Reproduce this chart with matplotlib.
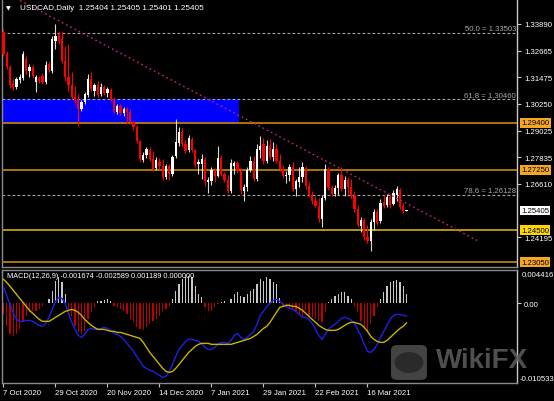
import numpy as np
import pandas as pd
import matplotlib
matplotlib.use('Agg')
import matplotlib.pyplot as plt
from matplotlib.transforms import blended_transform_factory
from matplotlib.patches import Rectangle, FancyBboxPatch, Circle
from matplotlib import font_manager

# ---------------- data ----------------
dates = pd.bdate_range('2020-10-07', '2021-04-01')
dates = dates[~dates.isin(pd.to_datetime(['2020-12-25', '2021-01-01']))]

opens = [1.3353, 1.3253, 1.3193, 1.3116, 1.3102, 1.3134, 1.3143, 1.3230, 1.3175, 1.3193,
         1.3125, 1.3143, 1.3152, 1.3125, 1.3207, 1.3175, 1.3312, 1.3344, 1.3321, 1.3221,
         1.3148, 1.3111, 1.3057, 1.3048, 1.3002, 1.3034, 1.3066, 1.3139, 1.3084, 1.3111,
         1.3071, 1.3102, 1.3075, 1.3089, 1.3048, 1.2989, 1.3016, 1.2984, 1.3002, 1.2989,
         1.2943, 1.2920, 1.2857, 1.2770, 1.2793, 1.2816, 1.2775, 1.2734, 1.2761, 1.2743,
         1.2693, 1.2743, 1.2707, 1.2788, 1.2848, 1.2898, 1.2843, 1.2816, 1.2866, 1.2816,
         1.2752, 1.2752, 1.2770, 1.2670, 1.2675, 1.2725, 1.2697, 1.2779, 1.2707, 1.2679,
         1.2629, 1.2743, 1.2757, 1.2720, 1.2629, 1.2647, 1.2725, 1.2766, 1.2684, 1.2816,
         1.2843, 1.2766, 1.2834, 1.2784, 1.2820, 1.2766, 1.2729, 1.2697, 1.2702, 1.2738,
         1.2638, 1.2670, 1.2693, 1.2734, 1.2652, 1.2611, 1.2584, 1.2561, 1.2502, 1.2597,
         1.2729, 1.2643, 1.2616, 1.2643, 1.2702, 1.2638, 1.2679, 1.2647, 1.2606, 1.2547,
         1.2470, 1.2497, 1.2420, 1.2402, 1.2488, 1.2534, 1.2493, 1.2579, 1.2565, 1.2602,
         1.2570, 1.2611, 1.2634, 1.2561, 1.25404]
highs = [1.3366, 1.3266, 1.3202, 1.3139, 1.3148, 1.3162, 1.3266, 1.3243, 1.3207, 1.3202,
         1.3157, 1.3152, 1.3166, 1.3221, 1.3216, 1.3334, 1.3389, 1.3357, 1.3357, 1.3289,
         1.3298, 1.3171, 1.3107, 1.3071, 1.3043, 1.3080, 1.3162, 1.3171, 1.3121, 1.3130,
         1.3121, 1.3111, 1.3102, 1.3098, 1.3057, 1.3025, 1.3025, 1.3011, 1.3011, 1.3002,
         1.2948, 1.2929, 1.2861, 1.2807, 1.2829, 1.2829, 1.2811, 1.2784, 1.2779, 1.2775,
         1.2752, 1.2752, 1.2793, 1.2957, 1.2920, 1.2916, 1.2861, 1.2884, 1.2875, 1.2820,
         1.2775, 1.2798, 1.2784, 1.2693, 1.2738, 1.2734, 1.2834, 1.2793, 1.2716, 1.2702,
         1.2775, 1.2766, 1.2766, 1.2734, 1.2661, 1.2738, 1.2788, 1.2788, 1.2843, 1.2879,
         1.2870, 1.2861, 1.2866, 1.2852, 1.2843, 1.2798, 1.2747, 1.2720, 1.2752, 1.2761,
         1.2684, 1.2738, 1.2761, 1.2743, 1.2670, 1.2629, 1.2606, 1.2597, 1.2611, 1.2752,
         1.2738, 1.2656, 1.2656, 1.2711, 1.2738, 1.2697, 1.2693, 1.2684, 1.2629, 1.2565,
         1.2511, 1.2506, 1.2474, 1.2502, 1.2547, 1.2547, 1.2593, 1.2611, 1.2616, 1.2616,
         1.2634, 1.2652, 1.2643, 1.2575, 1.25405]
lows = [1.3243, 1.3184, 1.3098, 1.3089, 1.3093, 1.3121, 1.3134, 1.3162, 1.3148, 1.3143,
        1.3080, 1.3121, 1.3116, 1.3116, 1.3171, 1.3166, 1.3275, 1.3298, 1.3212, 1.3130,
        1.3084, 1.3048, 1.3030, 1.2925, 1.2993, 1.3025, 1.3057, 1.3084, 1.3061, 1.3057,
        1.3061, 1.3066, 1.3057, 1.3039, 1.2984, 1.2980, 1.2975, 1.2970, 1.2934, 1.2934,
        1.2907, 1.2848, 1.2761, 1.2761, 1.2779, 1.2766, 1.2720, 1.2725, 1.2729, 1.2679,
        1.2684, 1.2679, 1.2697, 1.2779, 1.2834, 1.2829, 1.2802, 1.2807, 1.2807, 1.2738,
        1.2707, 1.2684, 1.2652, 1.2620, 1.2656, 1.2670, 1.2693, 1.2697, 1.2670, 1.2620,
        1.2620, 1.2707, 1.2711, 1.2616, 1.2584, 1.2629, 1.2716, 1.2675, 1.2675, 1.2779,
        1.2752, 1.2757, 1.2775, 1.2766, 1.2757, 1.2720, 1.2688, 1.2666, 1.2675, 1.2629,
        1.2606, 1.2647, 1.2670, 1.2638, 1.2602, 1.2570, 1.2552, 1.2488, 1.2465, 1.2588,
        1.2634, 1.2606, 1.2606, 1.2611, 1.2629, 1.2606, 1.2616, 1.2597, 1.2534, 1.2465,
        1.2443, 1.2406, 1.2393, 1.2356, 1.2452, 1.2474, 1.2484, 1.2552, 1.2556, 1.2552,
        1.2565, 1.2584, 1.2547, 1.2529, 1.25401]
closes = [1.3253, 1.3193, 1.3111, 1.3102, 1.3139, 1.3148, 1.3253, 1.3175, 1.3193, 1.3152,
          1.3148, 1.3130, 1.3125, 1.3202, 1.3180, 1.3321, 1.3334, 1.3312, 1.3221, 1.3148,
          1.3111, 1.3057, 1.3039, 1.3002, 1.3034, 1.3071, 1.3139, 1.3093, 1.3111, 1.3066,
          1.3102, 1.3075, 1.3093, 1.3048, 1.2993, 1.3016, 1.2984, 1.3002, 1.2989, 1.2943,
          1.2920, 1.2857, 1.2775, 1.2793, 1.2820, 1.2775, 1.2729, 1.2770, 1.2743, 1.2693,
          1.2743, 1.2707, 1.2784, 1.2852, 1.2898, 1.2843, 1.2811, 1.2870, 1.2816, 1.2747,
          1.2761, 1.2775, 1.2675, 1.2679, 1.2725, 1.2697, 1.2779, 1.2707, 1.2679, 1.2629,
          1.2757, 1.2757, 1.2720, 1.2634, 1.2647, 1.2725, 1.2766, 1.2684, 1.2820, 1.2834,
          1.2766, 1.2834, 1.2784, 1.2820, 1.2766, 1.2729, 1.2697, 1.2702, 1.2738, 1.2638,
          1.2675, 1.2693, 1.2738, 1.2652, 1.2611, 1.2584, 1.2561, 1.2502, 1.2597, 1.2729,
          1.2643, 1.2616, 1.2643, 1.2702, 1.2638, 1.2679, 1.2647, 1.2606, 1.2547, 1.2474,
          1.2497, 1.2420, 1.2402, 1.2488, 1.2534, 1.2484, 1.2575, 1.2561, 1.2602, 1.2565,
          1.2620, 1.2638, 1.2556, 1.2538, 1.25405]

# MACD(12,26,9), in units of 1e-4
macd_main_x1e4 = [21.2, 10.6, -1.3, -13.2, -21.2, -23.8, -23.8, -22.5, -22.5, -23.8,
                  -26.5, -29.1, -30.4, -26.5, -18.5, -7.9, 2.6, 7.9, 6.6, 0.0,
                  -13.2, -25.1, -34.4, -42.3, -45.0, -41.0, -34.4, -33.1, -34.4, -34.4,
                  -33.1, -31.8, -33.1, -35.7, -39.7, -41.0, -43.7, -47.6, -52.9, -58.2,
                  -63.5, -70.1, -76.7, -83.3, -86.0, -88.6, -90.0, -92.6, -95.3, -97.9,
                  -96.6, -90.0, -80.7, -70.1, -60.9, -55.6, -50.3, -47.6, -47.6, -49.0,
                  -50.3, -52.9, -58.2, -60.9, -60.9, -58.2, -54.2, -51.6, -51.6, -52.9,
                  -49.0, -42.3, -39.7, -45.0, -47.6, -45.0, -41.0, -37.0, -27.8, -15.9,
                  -10.6, -4.0, 0.0, 4.0, 5.3, 2.6, -1.3, -4.0, -6.6, -7.9,
                  -10.6, -14.6, -18.5, -18.5, -21.2, -26.5, -34.4, -42.3, -47.6, -41.0,
                  -34.4, -30.4, -27.8, -23.8, -19.8, -18.5, -19.8, -22.5, -26.5, -34.4,
                  -43.7, -54.2, -63.5, -64.8, -60.9, -54.2, -45.0, -37.0, -29.1, -21.2,
                  -15.9, -14.6, -14.6, -15.9, -16.74]
macd_signal_x1e4 = [31.8, 27.8, 22.5, 17.2, 11.9, 6.6, 1.3, -4.0, -9.3, -13.2,
                    -17.2, -21.2, -23.8, -23.8, -23.8, -21.2, -18.5, -15.9, -13.2, -10.6,
                    -9.3, -7.9, -9.3, -11.9, -15.9, -21.2, -25.1, -29.1, -31.8, -34.4,
                    -34.4, -34.4, -35.7, -37.0, -37.0, -38.4, -38.4, -39.7, -41.0, -42.3,
                    -43.7, -45.0, -46.3, -51.6, -58.2, -64.8, -70.1, -75.4, -80.7, -86.0,
                    -90.0, -91.3, -90.0, -86.0, -80.7, -75.4, -70.1, -64.8, -60.9, -56.9,
                    -54.2, -52.9, -52.9, -52.9, -54.2, -54.2, -54.2, -54.2, -54.2, -54.2,
                    -54.2, -52.9, -51.6, -50.3, -49.0, -47.6, -46.3, -43.7, -41.0, -37.0,
                    -33.1, -30.4, -25.1, -18.5, -11.9, -5.3, -4.0, -2.6, -2.6, -4.0,
                    -4.0, -6.6, -9.3, -13.2, -17.2, -21.2, -25.1, -29.1, -31.8, -34.4,
                    -35.7, -35.7, -35.7, -34.4, -31.8, -29.1, -26.5, -25.1, -25.1, -26.5,
                    -27.8, -31.8, -37.0, -43.7, -47.6, -50.3, -51.6, -51.6, -49.0, -45.0,
                    -41.0, -37.0, -33.1, -30.4, -25.89]
macd_hist_x1e4 = [-14.6, -30.4, -41.0, -43.7, -41.0, -34.4, -23.8, -17.2, -11.9, -10.6,
                  -10.6, -7.9, -4.0, 0.7, 5.3, 15.9, 29.1, 34.4, 27.8, 11.9,
                  -7.9, -17.2, -30.4, -38.4, -41.0, -37.0, -21.2, -11.9, -5.3, 2.6,
                  2.6, 4.0, 5.3, 2.6, -4.0, -5.3, -7.9, -10.6, -14.6, -21.2,
                  -25.1, -31.8, -34.4, -35.7, -31.8, -27.8, -23.8, -21.2, -17.2, -11.9,
                  -7.9, -4.0, 5.3, 15.9, 25.1, 31.8, 34.4, 35.7, 34.4, 22.5,
                  11.9, 7.9, -5.3, -10.6, -10.6, -5.3, -1.3, 1.3, 2.6, 0.7,
                  5.3, 11.9, 14.6, 9.3, 7.9, 11.9, 15.9, 18.5, 25.1, 31.8,
                  29.1, 34.4, 31.8, 27.8, 25.1, 6.6, -4.0, -5.3, -7.9, -7.9,
                  -10.6, -14.6, -17.2, -10.6, -17.2, -18.5, -21.2, -23.8, -25.1, -11.9,
                  1.3, 5.3, 9.3, 11.9, 14.6, 14.6, 9.3, 5.3, -4.0, -11.9,
                  -23.8, -31.8, -37.0, -27.8, -17.2, -5.3, 5.3, 14.6, 22.5, 27.8,
                  29.1, 30.4, 27.8, 22.5, 11.89]

price_ticks = [1.33890, 1.32665, 1.31475, 1.30250, 1.29025, 1.27835, 1.26610, 1.24195]
levels = [1.29400, 1.27250, 1.24500, 1.23050]
level_kind = ['orange', 'orange', 'yellow', 'orange']
fib_levels = [1.33503, 1.30460, 1.26128]
fib_names = ['50.0', '61.8', '78.6']
zone_price = (1.2938, 1.30460)
zone_bars = (-1.0, 72.5)
trend_bars = [5.1, 146.0]
trend_prices = [1.3496, 1.2402]
macd_range = (-0.010533, 0.004416)
title = 'USDCAD,Daily  1.25404 1.25405 1.25401 1.25405'
macd_title = 'MACD(12,26,9) -0.001674 -0.002589 0.001189 0.000000'

# ---------------- style ----------------
avail = {f.name for f in font_manager.fontManager.ttflist}
base = 'Liberation Sans Narrow' if 'Liberation Sans Narrow' in avail else 'Liberation Sans'
plt.rcParams['font.family'] = [base, 'DejaVu Sans']
FS = 6.3 if base.endswith('Narrow') else 5.6

W, H = 554, 402
fig = plt.figure(figsize=(W / 100, H / 100), dpi=100, facecolor='black')

def frac(x0, y0, x1, y1):
    return [x0 / W, 1 - y1 / H, (x1 - x0) / W, (y1 - y0) / H]

ax = fig.add_axes(frac(2, 0, 517, 268))
axm = fig.add_axes(frac(2, 271, 517, 384))

o = np.array(opens); h = np.array(highs); l = np.array(lows); c = np.array(closes)
n = len(o)
x = np.arange(n)
xlim = (-0.46, 158.0)

for a in (ax, axm):
    a.set_facecolor('black')
    a.set_xlim(*xlim)
    for s in a.spines.values():
        s.set_color('#8a8a8a')
        s.set_linewidth(1.0)
    a.spines['right'].set_color('#c8c8c8')
ax.spines['top'].set_visible(False)

ax.set_ylim(1.228335, 1.350275)

# zone rectangle (background)
ax.add_patch(Rectangle((zone_bars[0], zone_price[0]), zone_bars[1] - zone_bars[0],
                       zone_price[1] - zone_price[0], facecolor='#0000ff',
                       edgecolor='none', zorder=1))

# fib lines
for lv, nm in zip(fib_levels, fib_names):
    ax.axhline(lv, color='#a8a8a8', lw=0.8, ls=(0, (2.5, 2)), zorder=2)
    ax.annotate(f'{nm} = {lv:.5f}', xy=(1, lv), xycoords=blended_transform_factory(ax.transAxes, ax.transData),
                xytext=(-1, 0.5), textcoords='offset pixels', ha='right', va='bottom',
                color='#a8a8a8', fontsize=FS, zorder=6)

# horizontal levels
line_col = {'orange': '#c98a00', 'yellow': '#d2b400'}
box_col = {'orange': '#f5a623', 'yellow': '#ffd600'}
for lv, k in zip(levels, level_kind):
    ax.axhline(lv, color=line_col[k], lw=1.2, zorder=2)

# candles
up = c >= o
body_lo = np.minimum(o, c)
body_h = np.maximum(np.abs(c - o), 0.00007)
ax.vlines(x[up], l[up], h[up], color='#d8d8d8', lw=0.8, zorder=3)
ax.vlines(x[~up], l[~up], h[~up], color='#ff0000', lw=0.8, zorder=3)
ax.bar(x[up], body_h[up], bottom=body_lo[up], width=0.72, color='#ffffff', lw=0, zorder=3.5)
ax.bar(x[~up], body_h[~up], bottom=body_lo[~up], width=0.72, color='#ff0000', lw=0, zorder=3.5)

# trend line
ax.plot(trend_bars, trend_prices, color='#d01f8a', lw=1.0, ls=(0, (1.2, 2.2)), zorder=4)

# price axis
ax.yaxis.tick_right()
ax.set_yticks(price_ticks)
ax.set_yticklabels([f'{v:.5f}' for v in price_ticks])
ax.tick_params(axis='y', colors='#c8c8c8', labelcolor='white', labelsize=FS,
               length=3, width=0.8, pad=2)
ax.set_xticks([])

bt = blended_transform_factory(ax.transAxes, ax.transData)
for lv, k in zip(levels, level_kind):
    ax.text(1 + 4 / 515, lv, f'{lv:.5f}', transform=bt, ha='left', va='center',
            fontsize=FS, color='black', clip_on=False, zorder=7,
            bbox=dict(boxstyle='square,pad=0.18', facecolor=box_col[k], edgecolor='none'))
ax.text(1 + 4 / 515, c[-1], f'{c[-1]:.5f}', transform=bt, ha='left', va='center',
        fontsize=FS, color='black', clip_on=False, zorder=7,
        bbox=dict(boxstyle='square,pad=0.18', facecolor='white', edgecolor='none'))

# title
fig.text(6 / W, 1 - 8.5 / H, '\u25bc', color='white', fontsize=4.5, va='center',
         family='DejaVu Sans')
fig.text(20 / W, 1 - 8.5 / H, title, color='white', fontsize=FS + 0.3, va='center')

# ---------------- MACD panel ----------------
hist = np.array(macd_hist_x1e4) * 1e-4
main = np.array(macd_main_x1e4) * 1e-4
sig = np.array(macd_signal_x1e4) * 1e-4
axm.set_ylim(*macd_range)
axm.bar(x, hist, width=0.42, color=np.where(hist >= 0, '#c8c8c8', '#c00000'), lw=0, zorder=2)
axm.plot(x, main, color='#1f1fe8', lw=1.0, zorder=3)
axm.plot(x, sig, color='#c8b400', lw=1.0, zorder=3)

axm.yaxis.tick_right()
axm.set_yticks([0.0])
axm.set_yticklabels(['0.00'])
axm.tick_params(axis='y', colors='#c8c8c8', labelcolor='white', labelsize=FS,
                length=3, width=0.8, pad=2)
bm = blended_transform_factory(axm.transAxes, axm.transData)
axm.annotate(f'{macd_range[1]:.6f}', xy=(1, macd_range[1]), xycoords=bm, xytext=(5, -5),
             textcoords='offset pixels', ha='left', va='center', color='white', fontsize=FS,
             annotation_clip=False)
axm.annotate(f'{macd_range[0]:.6f}', xy=(1, macd_range[0]), xycoords=bm, xytext=(3, 4),
             textcoords='offset pixels', ha='left', va='center', color='white', fontsize=FS,
             annotation_clip=False)

tick_idx = x[::16]
axm.set_xticks(tick_idx)
axm.set_xticklabels([f'{d.day} {d.strftime("%b %Y")}' for d in dates[::16]])
for lab in axm.get_xticklabels():
    lab.set_horizontalalignment('left')
axm.tick_params(axis='x', colors='#c8c8c8', labelcolor='white', labelsize=FS,
                length=3, width=0.8, pad=1.5)

axm.text(5 / 515, 1 - 6 / 113, macd_title, transform=axm.transAxes, color='white',
         fontsize=FS - 0.3, va='center', ha='left')

# ---------------- watermark ----------------
fig.patches.append(FancyBboxPatch((391 / W, 1 - 381 / H), 36 / W, 35 / H,
                                  boxstyle='round,pad=0,rounding_size=0.012',
                                  transform=fig.transFigure, facecolor='#5a5a5a',
                                  edgecolor='none', alpha=0.75, zorder=10))
fig.patches.append(Circle((409 / W, 1 - 363.5 / H), 0.026, transform=fig.transFigure,
                          facecolor='#262626', edgecolor='none', alpha=0.85, zorder=11))
fig.text(436 / W, 1 - 360.5 / H, 'WikiFX', color='#5e5e5e', alpha=0.85, fontsize=20,
         fontweight='bold', family='Liberation Sans', va='center', ha='left', zorder=12)

fig.savefig('out.png', dpi=100, facecolor='black')
